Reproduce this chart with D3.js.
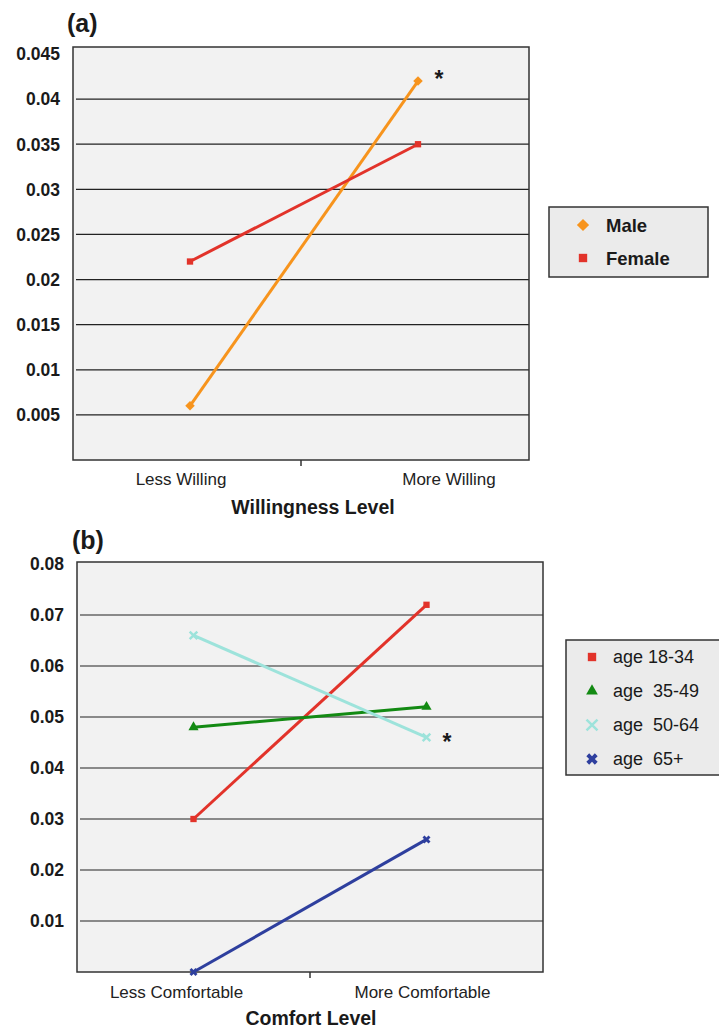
<!DOCTYPE html>
<html>
<head>
<meta charset="utf-8">
<script src="https://cdn.jsdelivr.net/npm/d3@7"></script>
<style>
  body { margin: 0; background: #fff; }
  svg { font-family: "Liberation Sans", Arial, Helvetica, sans-serif; }
</style>
</head>
<body>
<svg width="719" height="1028"></svg>
<script>
// panel (a) data
const willingLevels = ["Less Willing", "More Willing"];
const maleValues = [0.006, 0.042];
const femaleValues = [0.022, 0.035];
const aTicks = [0.005, 0.01, 0.015, 0.02, 0.025, 0.03, 0.035, 0.04, 0.045];
const aTickLabels = ["0.005", "0.01", "0.015", "0.02", "0.025", "0.03", "0.035", "0.04", "0.045"];

// panel (b) data
const comfortLevels = ["Less Comfortable", "More Comfortable"];
const age1834 = [0.030, 0.072];
const age3549 = [0.048, 0.052];
const age5064 = [0.066, 0.046];
const age65 = [0.000, 0.026];
const bTicks = [0.01, 0.02, 0.03, 0.04, 0.05, 0.06, 0.07, 0.08];
const bTickLabels = ["0.01", "0.02", "0.03", "0.04", "0.05", "0.06", "0.07", "0.08"];

const svg = d3.select("svg");

// 마커 모양 함수
function marker(g, type, size, color) {
  if (type === "times") {
    g.append("path")
      .attr("d", d3.symbol().type(d3.symbolTimes).size(size)())
      .attr("fill", "none").attr("stroke", color).attr("stroke-width", 2.5);
  } else if (type === "star") {
    g.append("path")
      .attr("d", d3.symbol().type(d3.symbolCross).size(size)())
      .attr("transform", "rotate(45)")
      .attr("fill", color);
  } else if (type === "diamond") {
    g.append("path")
      .attr("d", d3.symbol().type(d3.symbolSquare).size(size)())
      .attr("transform", "rotate(45)")
      .attr("fill", color);
  } else {
    g.append("path")
      .attr("d", d3.symbol().type(type).size(size)())
      .attr("fill", color);
  }
}

function drawPanel(opt) {
  const { left, right, top, bottom, yMaxPos, levels, ticks, tickLabels, max, series } = opt;
  const g = svg.append("g");

  const x = d3.scalePoint().domain(levels).range([left + opt.shift, right + opt.shift]).padding(0.5);
  const y = d3.scaleLinear().domain([0, max]).range([bottom, yMaxPos]);

  // plot background
  g.append("rect")
    .attr("x", left).attr("y", top)
    .attr("width", right - left).attr("height", bottom - top)
    .attr("fill", "#f2f2f2");

  // gridlines (max value sits on the frame)
  g.selectAll(".grid")
    .data(ticks.filter((t) => t < max))
    .enter()
    .append("line")
    .attr("x1", left + 3).attr("x2", right)
    .attr("y1", (d) => y(d)).attr("y2", (d) => y(d))
    .attr("stroke", "#222").attr("stroke-width", 1.2);

  // frame
  g.append("rect")
    .attr("x", left).attr("y", top)
    .attr("width", right - left).attr("height", bottom - top)
    .attr("fill", "none").attr("stroke", "#333").attr("stroke-width", 1.5);

  // y labels
  g.selectAll(".ylab")
    .data(ticks)
    .enter()
    .append("text")
    .attr("x", left - 13)
    .attr("y", (d) => y(d))
    .attr("dy", "0.36em")
    .attr("text-anchor", "end")
    .style("font-size", "17.5px")
    .style("font-weight", "bold")
    .style("fill", "#1a1a1a")
    .text((d, i) => tickLabels[i]);

  // middle tick on x axis
  const mid = (left + right) / 2;
  g.append("line")
    .attr("x1", mid).attr("x2", mid)
    .attr("y1", bottom).attr("y2", bottom + 6)
    .attr("stroke", "#333").attr("stroke-width", 1.5);

  // x labels (원본처럼 약간 어긋난 위치)
  g.selectAll(".xlab")
    .data(levels)
    .enter()
    .append("text")
    .attr("x", (d, i) => x(d) + opt.labelDx[i])
    .attr("y", bottom + opt.xLabelOffset)
    .attr("text-anchor", "middle")
    .style("font-size", "17px")
    .style("fill", "#222")
    .text((d) => d);

  g.append("text")
    .attr("x", opt.titleX)
    .attr("y", bottom + opt.titleOffset)
    .attr("text-anchor", "middle")
    .style("font-size", "19.5px")
    .style("font-weight", "bold")
    .style("fill", "#1a1a1a")
    .text(opt.axisTitle);

  // panel letter
  g.append("text")
    .attr("x", opt.letterX).attr("y", opt.letterY)
    .style("font-size", "25px")
    .style("font-weight", "bold")
    .style("fill", "#1a1a1a")
    .text(opt.letter);

  // lines + markers
  const line = d3.line().x((d, i) => x(levels[i])).y((d) => y(d));
  series.forEach((s) => {
    g.append("path")
      .datum(s.values)
      .attr("d", line)
      .attr("fill", "none")
      .attr("stroke", s.color)
      .attr("stroke-width", 3);
    s.values.forEach((v, i) => {
      const m = g.append("g").attr("transform", `translate(${x(levels[i])}, ${y(v)})`);
      marker(m, s.shape, s.size, s.color);
    });
  });

  // asterisk
  g.append("text")
    .attr("x", opt.starX).attr("y", opt.starY)
    .attr("text-anchor", "middle")
    .style("font-size", "23px")
    .style("font-weight", "bold")
    .style("fill", "#1a1a1a")
    .text("*");

  // legend
  const L = opt.legend;
  g.append("rect")
    .attr("x", L.x).attr("y", L.y)
    .attr("width", L.w).attr("height", L.h)
    .attr("fill", "#ebebeb").attr("stroke", "#333").attr("stroke-width", 1.5);
  series.forEach((s, i) => {
    const cy = L.y + L.first + i * L.step;
    const m = g.append("g").attr("transform", `translate(${L.markerX}, ${cy})`);
    marker(m, s.shape, s.legendSize, s.color);
    g.append("text")
      .attr("x", L.textX).attr("y", cy)
      .attr("dy", "0.36em")
      .style("white-space", "pre")
      .style("font-size", L.fontSize)
      .style("font-weight", L.bold ? "bold" : "normal")
      .style("fill", "#1a1a1a")
      .text(s.name);
  });
}

drawPanel({
  left: 73, right: 529, top: 47, bottom: 460, yMaxPos: 54, shift: 3,
  levels: willingLevels, ticks: aTicks, tickLabels: aTickLabels, max: 0.045,
  series: [
    { name: "Male", values: maleValues, color: "#f7941d", shape: "diamond", size: 45, legendSize: 75 },
    { name: "Female", values: femaleValues, color: "#e2332a", shape: d3.symbolSquare, size: 40, legendSize: 70 }
  ],
  labelDx: [-9, 31],
  xLabelOffset: 25, titleOffset: 54, titleX: 313, axisTitle: "Willingness Level",
  letter: "(a)", letterX: 67, letterY: 32,
  starX: 439, starY: 87,
  legend: { x: 549, y: 207, w: 159, h: 70, first: 18, step: 33, markerX: 583, textX: 606, fontSize: "18.5px", bold: true }
});

drawPanel({
  left: 77, right: 543, top: 562, bottom: 972, yMaxPos: 564, shift: 0,
  levels: comfortLevels, ticks: bTicks, tickLabels: bTickLabels, max: 0.08,
  series: [
    { name: "age 18-34", values: age1834, color: "#e2332a", shape: d3.symbolSquare, size: 40, legendSize: 70 },
    { name: "age  35-49", values: age3549, color: "#138a13", shape: d3.symbolTriangle, size: 45, legendSize: 60 },
    { name: "age  50-64", values: age5064, color: "#9de3db", shape: "times", size: 40, legendSize: 80 },
    { name: "age  65+", values: age65, color: "#2e3f9e", shape: "star", size: 40, legendSize: 80 }
  ],
  labelDx: [-17, -4],
  xLabelOffset: 26, titleOffset: 53, titleX: 311, axisTitle: "Comfort Level",
  letter: "(b)", letterX: 72, letterY: 549,
  starX: 447, starY: 750,
  legend: { x: 566, y: 640, w: 160, h: 135, first: 17, step: 34, markerX: 592, textX: 613, fontSize: "18px", bold: false }
});
</script>
</body>
</html>
